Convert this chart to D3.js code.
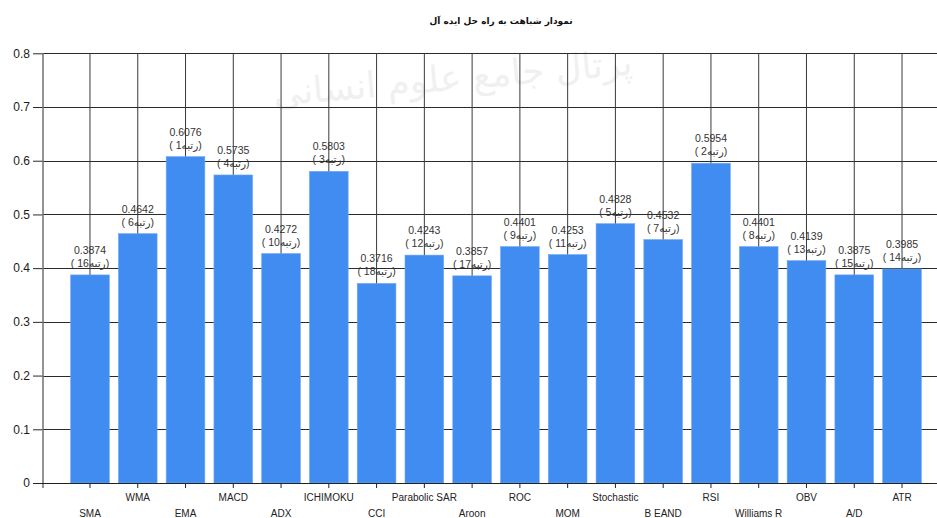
<!DOCTYPE html>
<html>
<head>
<meta charset="utf-8">
<script src="https://cdn.jsdelivr.net/npm/d3@7/dist/d3.min.js"></script>
<style>
  html, body { margin: 0; padding: 0; background: #fff; }
  svg { display: block; }
</style>
</head>
<body>
<svg id="chart" width="937" height="518"></svg>
<script>
const title = "نمودار شباهت به راه حل ایده آل";
const watermark = "پرتال جامع علوم انسانی";
const categories = ["SMA", "WMA", "EMA", "MACD", "ADX", "ICHIMOKU", "CCI", "Parabolic SAR", "Aroon",
  "ROC", "MOM", "Stochastic", "B EAND", "RSI", "Williams R", "OBV", "A/D", "ATR"];
const values = [0.3874, 0.4642, 0.6076, 0.5735, 0.4272, 0.5803, 0.3716, 0.4243, 0.3857,
  0.4401, 0.4253, 0.4828, 0.4532, 0.5954, 0.4401, 0.4139, 0.3875, 0.3985];
const ranks = [16, 6, 1, 4, 10, 3, 18, 12, 17, 9, 11, 5, 7, 2, 8, 13, 15, 14];
const rankWord = "رتبه";
const yTicks = [0, 0.1, 0.2, 0.3, 0.4, 0.5, 0.6, 0.7, 0.8];

const svg = d3.select("#chart");
const font = "'Liberation Sans', Arial, 'DejaVu Sans', sans-serif";

const x = d3.scaleBand().domain(categories).range([66.1, 925.9]).paddingInner(0.19).paddingOuter(0.095);
const y = d3.scaleLinear().domain([0, 0.8]).range([483, 53.3]);
const plotLeft = 43, plotRight = 937;

// watermark (faint)
svg.append("text")
  .attr("x", 452).attr("y", 90)
  .attr("transform", "rotate(-5 455 70)")
  .attr("text-anchor", "middle")
  .attr("font-family", "'DejaVu Sans', sans-serif")
  .attr("font-size", 36)
  .attr("fill", "#f0f0f0")
  .text(watermark);

// title
svg.append("text")
  .attr("x", 501).attr("y", 24)
  .attr("text-anchor", "middle")
  .attr("font-family", "'DejaVu Sans', sans-serif")
  .attr("font-weight", "bold")
  .attr("font-size", 9)
  .attr("fill", "#111")
  .text(title);

// horizontal gridlines
svg.append("g").selectAll("line").data(yTicks).join("line")
  .attr("x1", plotLeft).attr("x2", plotRight)
  .attr("y1", d => Math.round(y(d)) + 0.5).attr("y2", d => Math.round(y(d)) + 0.5)
  .attr("stroke", "#2a2a2a").attr("stroke-width", 1);

// vertical gridlines
svg.append("g").selectAll("line").data(categories).join("line")
  .attr("x1", d => x(d) + x.bandwidth() / 2).attr("x2", d => x(d) + x.bandwidth() / 2)
  .attr("y1", y(0.8)).attr("y2", y(0))
  .attr("stroke", "#3a3a3a").attr("stroke-width", 1);

// bars
svg.append("g").selectAll("rect").data(categories).join("rect")
  .attr("x", d => x(d))
  .attr("width", x.bandwidth())
  .attr("y", (d, i) => y(values[i]))
  .attr("height", (d, i) => y(0) - y(values[i]))
  .attr("fill", "#418CF0")
  .attr("stroke", "#6fa8f3").attr("stroke-width", 0.6);

// y axis
const yAxis = d3.axisLeft(y).tickValues(yTicks).tickSize(10).tickPadding(3)
  .tickFormat(d => d === 0 ? "0" : d3.format(".1f")(d));
const gy = svg.append("g").attr("transform", `translate(${plotLeft},0)`).call(yAxis);
gy.select(".domain").remove();
gy.selectAll(".tick line").attr("stroke", "#2a2a2a");
gy.selectAll(".tick text").attr("font-family", font).attr("font-size", 12).attr("fill", "#1a1a1a");
svg.append("line")
  .attr("x1", plotLeft).attr("x2", plotLeft).attr("y1", y(0.8)).attr("y2", 488)
  .attr("stroke", "#707070").attr("stroke-width", 1.5);

// x axis
const xAxis = d3.axisBottom(x).tickSize(5).tickSizeOuter(0).tickFormat("");
const gx = svg.append("g").attr("transform", `translate(0,${y(0)})`).call(xAxis);
gx.select(".domain").remove();
gx.selectAll(".tick line").attr("stroke", "#222");
svg.append("line")
  .attr("x1", 33).attr("x2", 932).attr("y1", y(0) + 0.5).attr("y2", y(0) + 0.5)
  .attr("stroke", "#222").attr("stroke-width", 1);

// x labels (staggered)
svg.append("g").selectAll("text").data(categories).join("text")
  .attr("x", d => x(d) + x.bandwidth() / 2)
  .attr("y", (d, i) => i % 2 === 0 ? 517 : 501)
  .attr("text-anchor", "middle")
  .attr("font-family", font).attr("font-size", 10).attr("fill", "#222")
  .text(d => d);

// data labels
const lbl = svg.append("g");
lbl.selectAll("text.v").data(categories).join("text").attr("class", "v")
  .attr("x", d => x(d) + x.bandwidth() / 2)
  .attr("y", (d, i) => y(values[i]) - 21)
  .attr("text-anchor", "middle")
  .attr("font-family", font).attr("font-size", 10.5).attr("fill", "#333")
  .text((d, i) => d3.format(".4f")(values[i]));
lbl.selectAll("text.r").data(categories).join("text").attr("class", "r")
  .attr("x", d => x(d) + x.bandwidth() / 2)
  .attr("y", (d, i) => y(values[i]) - 8)
  .attr("text-anchor", "middle")
  .attr("font-family", font).attr("font-size", 10.5).attr("fill", "#333")
  .attr("direction", "ltr")
  .text((d, i) => "( " + ranks[i] + rankWord + ")");
</script>
</body>
</html>
